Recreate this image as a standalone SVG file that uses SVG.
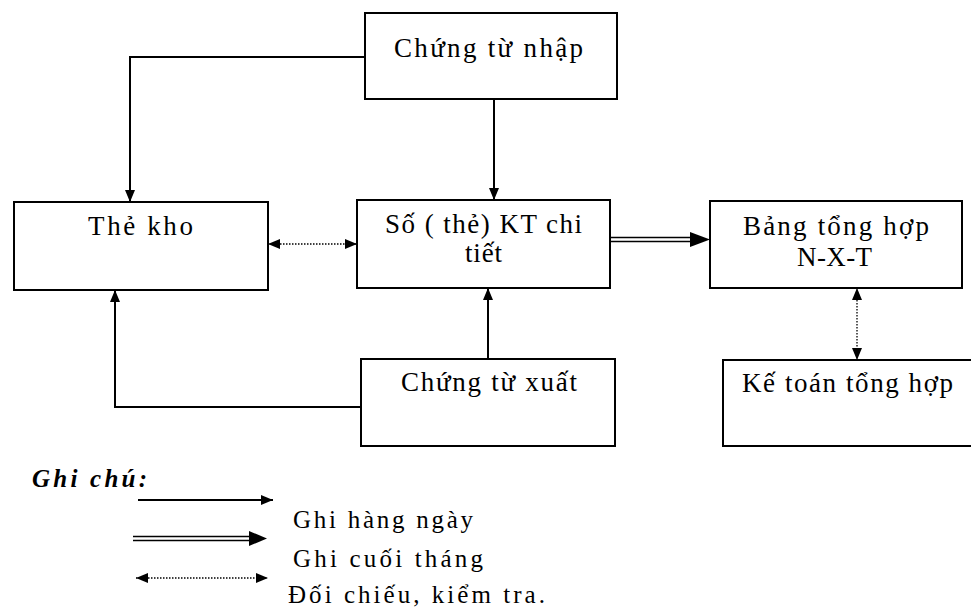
<svg xmlns="http://www.w3.org/2000/svg" width="971" height="616" viewBox="0 0 971 616">
<style>
  .box { fill: #ffffff; stroke: #000000; stroke-width: 2; }
  .t { font-family: "Liberation Serif", "DejaVu Serif", "Times New Roman", serif; font-size: 27px; fill: #000000; }
  .lg { font-family: "Liberation Serif", "DejaVu Serif", "Times New Roman", serif; font-size: 25px; fill: #000000; }
  .note { font-family: "Liberation Serif", "DejaVu Serif", "Times New Roman", serif; font-size: 25px; font-weight: bold; font-style: italic; fill: #000000; }
  .solid { fill: none; stroke: #000000; stroke-width: 2; }
  .dot { fill: none; stroke: #000000; stroke-width: 1.3; stroke-dasharray: 1.5 1.5; }
  .dbl { fill: none; stroke: #000000; stroke-width: 1.7; }
</style>
<defs>
  <marker id="ah" viewBox="0 0 12 10" refX="12" refY="5" markerWidth="12" markerHeight="10" markerUnits="userSpaceOnUse" orient="auto-start-reverse">
    <path d="M0,0 L12,5 L0,10 z" fill="#000000"/>
  </marker>
</defs>
<rect width="971" height="616" fill="#ffffff"/>

<g id="connectors">
  <path class="solid" d="M365,57 H130 V202" marker-end="url(#ah)"/>
  <path class="solid" d="M494,99 V200" marker-end="url(#ah)"/>
  <path class="solid" d="M361,407 H115 V290" marker-end="url(#ah)"/>
  <path class="solid" d="M488,359 V288" marker-end="url(#ah)"/>
  <path class="dot" d="M268,244 H357" marker-start="url(#ah)" marker-end="url(#ah)"/>
  <path class="dot" d="M857,288 V360" marker-start="url(#ah)" marker-end="url(#ah)"/>
  <path class="dbl" d="M610,237.5 H692"/>
  <path class="dbl" d="M610,241.5 H692"/>
  <polygon points="690,232 710,239.5 690,247" fill="#000000"/>
</g>

<g id="chung-tu-nhap">
  <rect class="box" x="365" y="13" width="252" height="86"/>
  <text class="t" x="394" y="57" textLength="189" lengthAdjust="spacing">Chứng từ nhập</text>
</g>
<g id="the-kho">
  <rect class="box" x="14" y="202" width="254" height="88"/>
  <text class="t" x="88" y="235" textLength="105" lengthAdjust="spacing">Thẻ kho</text>
</g>
<g id="so-kt-chi-tiet">
  <rect class="box" x="357" y="200" width="253" height="88"/>
  <text class="t" x="385" y="233" textLength="197" lengthAdjust="spacing">Số ( thẻ) KT chi</text>
  <text class="t" x="465" y="262" textLength="37" lengthAdjust="spacing">tiết</text>
</g>
<g id="bang-tong-hop">
  <rect class="box" x="710" y="201" width="252" height="87"/>
  <text class="t" x="743" y="235" textLength="186" lengthAdjust="spacing">Bảng tổng hợp</text>
  <text class="t" x="797" y="266" textLength="75" lengthAdjust="spacing">N-X-T</text>
</g>
<g id="ke-toan-tong-hop">
  <rect class="box" x="723" y="360" width="252" height="86"/>
  <text class="t" x="742" y="392" textLength="211" lengthAdjust="spacing">Kế toán tổng hợp</text>
</g>
<g id="chung-tu-xuat">
  <rect class="box" x="361" y="359" width="254" height="87"/>
  <text class="t" x="401" y="391" textLength="176" lengthAdjust="spacing">Chứng từ xuất</text>
</g>

<g id="legend">
  <text class="note" x="32" y="487" textLength="115" lengthAdjust="spacing">Ghi chú:</text>
  <path class="solid" d="M138,500 H273" marker-end="url(#ah)"/>
  <path class="dbl" d="M133,536.5 H252"/>
  <path class="dbl" d="M133,540.5 H252"/>
  <polygon points="249,531 267,538.5 249,546" fill="#000000"/>
  <path class="dot" d="M136,578 H268" marker-start="url(#ah)" marker-end="url(#ah)"/>
  <text class="lg" x="293" y="528" textLength="180" lengthAdjust="spacing">Ghi hàng ngày</text>
  <text class="lg" x="293" y="567" textLength="190" lengthAdjust="spacing">Ghi cuối tháng</text>
  <text class="lg" x="288" y="603" textLength="257" lengthAdjust="spacing">Đối chiếu, kiểm tra.</text>
</g>
</svg>
